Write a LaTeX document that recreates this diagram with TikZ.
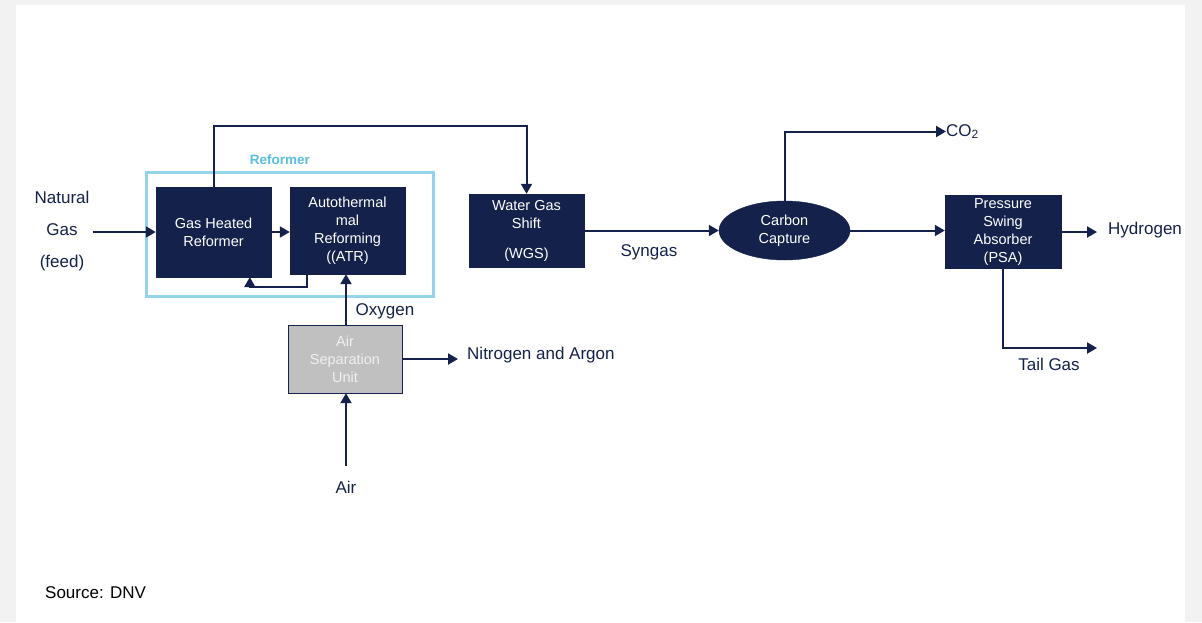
\documentclass[tikz,border=0pt]{standalone}
\usepackage{fontspec}
\setmainfont{Liberation Sans}
\usetikzlibrary{arrows.meta,shapes.geometric}
\definecolor{navy}{HTML}{14214A}
\definecolor{refblue}{HTML}{93D4EA}
\definecolor{reftext}{HTML}{58BEE0}
\definecolor{asugray}{HTML}{C0C0C0}
\definecolor{pagegray}{HTML}{F2F2F2}
\begin{document}
\begin{tikzpicture}[
    x=1pt, y=-1pt,
    unit/.style={draw=navy, fill=navy, text=white, align=center, inner sep=2pt,
                 minimum width=115pt, minimum height=#1,
                 font=\fontsize{14.5}{18}\selectfont},
    lbl/.style={text=navy, inner sep=0pt, font=\fontsize{17}{20}\selectfont},
    arr/.style={-{Triangle[length=10pt,width=11pt]}, line width=2pt, draw=navy},
]
% page
\fill[pagegray] (0,0) rectangle (1202,622);
\fill[white] (16,5) rectangle (1185,622);
\useasboundingbox (0,0) rectangle (1202,622);

% reformer group
\node[draw=refblue, line width=3pt, minimum width=287pt, minimum height=124pt,
      inner sep=0pt] (refbox) at (289.5,234) {};
\node[text=reftext, font=\bfseries\fontsize{13.5}{16}\selectfont] (reflbl) at (280,160) {Reformer};

% units
\node[unit=90pt]  (ghr) at (213.5,232) {Gas Heated\\Reformer};
\node[unit=87pt]  (atr) at (347.5,230.5) {Autothermal\\mal\\Reforming\\((ATR)};
\node[unit=73pt]  (wgs) at (526.5,230.5) {Water Gas\\Shift\\[12pt](WGS)};
\node[ellipse, draw=navy, fill=navy, text=white, minimum width=131pt, minimum height=59pt,
      inner sep=0pt, align=center, font=\fontsize{14.5}{18}\selectfont] (cc) at (784.5,230.5) {Carbon\\Capture};
\node[unit=73pt, minimum width=116pt] (psa) at (1003,232) {Pressure\\Swing\\Absorber\\(PSA)};
\node[unit=68pt, minimum width=114pt, fill=asugray, text=white!94!black] (asu) at (345,359) {Air\\Separation\\Unit};

% labels
\node[lbl, align=center, font=\fontsize{17}{32}\selectfont] (ng) at (62,231) {Natural\\Gas\\(feed)};
\node[lbl] (syn) at (649,252) {Syngas};
\node[lbl, anchor=west] (co2) at (946,131.5) {CO\textsubscript{2}};
\node[lbl, anchor=west] (h2) at (1108,230) {Hydrogen};
\node[lbl] (tail) at (1049,364) {Tail Gas};
\coordinate (tailend) at (1097,348);
\node[lbl] (oxy) at (385,311) {Oxygen};
\node[lbl, anchor=west] (n2) at (467,355) {Nitrogen and Argon};
\node[lbl] (air) at (346,487) {Air};
\node[inner sep=0pt, anchor=west, font=\fontsize{17}{20}\selectfont] (src) at (45,593) {Source: DNV};

% connectors
\draw[arr] ([xshift=3pt]ghr.west -| ng.east) -- (ghr.west);
\draw[arr] (ghr.east) -- (atr.west |- ghr.east);
\draw[arr] ([xshift=17pt]atr.south west) -- ++(0,13) -| ([xshift=94pt]ghr.south west);
\draw[arr] (ghr.north) -- ++(0,-61) -| (wgs.north);
\draw[arr] (wgs.east) -- (cc.west);
\draw[arr] (cc.north) |- (co2.west);
\draw[arr] (cc.east) -- (cc.east -| psa.west);
\draw[arr] (psa.east) -- ([xshift=-11pt]psa.east -| h2.west);
\draw[arr] (psa.south) |- (tailend);
\draw[arr] ([xshift=1pt]asu.north) -- ([xshift=1pt]asu.north |- atr.south);
\draw[arr] (asu.east) -- ([xshift=-9pt]asu.east -| n2.west);
\draw[arr] ([xshift=1pt,yshift=15pt]air.north -| asu.south) -- ([xshift=1pt]asu.south);
\end{tikzpicture}
\end{document}
